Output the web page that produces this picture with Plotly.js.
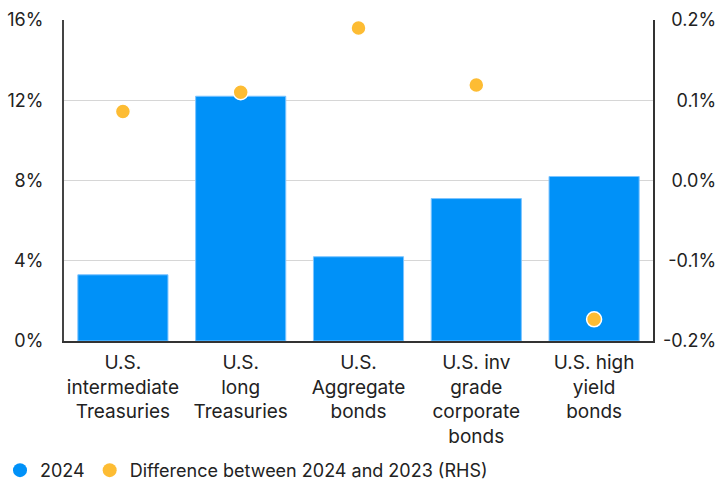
<!DOCTYPE html>
<html>
<head>
<meta charset="utf-8">
<script src="https://cdn.plot.ly/plotly-3.0.1.min.js"></script>
<style>
  html, body { margin: 0; padding: 0; background: #fff; }
  #chart { width: 728px; height: 485px; }
</style>
</head>
<body>
<div id="chart"></div>
<script>
// Bond categories (x axis tick labels)
const categories = [
  "U.S.<br>intermediate<br>Treasuries",
  "U.S.<br>long<br>Treasuries",
  "U.S.<br>Aggregate<br>bonds",
  "U.S. inv<br>grade<br>corporate<br>bonds",
  "U.S. high<br>yield<br>bonds"
];

// 2024 values, % (left axis)
const values2024 = [3.3, 12.2, 4.2, 7.1, 8.2];

// Change from 2023 to 2024, percentage points (right axis)
const diff2024vs2023 = [0.086, 0.110, 0.190, 0.119, -0.173];

const leftTicks = [0, 4, 8, 12, 16];
const rightTicks = [-0.2, -0.1, 0.0, 0.1, 0.2];

const blue = "#0091F8";
const gold = "#FDBC33";
const textColor = "#222222";

const traces = [
  {
    type: "bar",
    x: categories,
    y: values2024,
    marker: { color: blue, line: { color: "#7cc4ff", width: 1 } },
    width: 0.765,
    showlegend: false,
    hoverinfo: "y"
  },
  {
    type: "scatter",
    mode: "markers",
    x: categories,
    y: diff2024vs2023,
    yaxis: "y2",
    marker: { color: gold, size: 15, line: { color: "#ffffff", width: 1.5 } },
    showlegend: false
  },
  // Legend entries drawn as round swatches
  {
    type: "scatter", mode: "markers", x: [null], y: [null],
    name: "2024",
    marker: { color: blue, size: 14 }
  },
  {
    type: "scatter", mode: "markers", x: [null], y: [null],
    name: "Difference between 2024 and 2023 (RHS)",
    marker: { color: gold, size: 14 }
  }
];

const layout = {
  width: 728,
  height: 485,
  margin: { l: 64, r: 75, t: 20, b: 144 },
  paper_bgcolor: "#ffffff",
  plot_bgcolor: "#ffffff",
  font: { family: "Inter, 'Noto Sans', sans-serif", size: 18, color: textColor },
  xaxis: {
    type: "category",
    automargin: false,
    showline: true,
    linecolor: "#333333",
    linewidth: 2,
    ticks: "",
    ticklabelstandoff: 3,
    tickfont: { size: 19, color: textColor },
    fixedrange: true
  },
  yaxis: {
    range: [0, 16],
    automargin: false,
    tickvals: leftTicks,
    ticktext: leftTicks.map(v => v + "%"),
    showgrid: true,
    gridcolor: "#d6d6d6",
    gridwidth: 1,
    showline: true,
    linecolor: "#444444",
    linewidth: 2,
    zeroline: false,
    ticks: "",
    ticklabelstandoff: 15,
    fixedrange: true
  },
  yaxis2: {
    overlaying: "y",
    side: "right",
    automargin: false,
    range: [-0.2, 0.2],
    tickvals: rightTicks,
    ticktext: rightTicks.map(v => v.toFixed(1) + "%"),
    showgrid: false,
    zeroline: false,
    showline: true,
    linecolor: "#333333",
    linewidth: 1.5,
    ticks: "",
    ticklabelstandoff: 5,
    fixedrange: true
  },
  legend: {
    orientation: "h",
    xref: "container",
    yref: "container",
    x: 0.0,
    xanchor: "left",
    y: 0.03,
    yanchor: "middle",
    font: { size: 18, color: textColor },
    itemwidth: 20
  },
  showlegend: true
};

Plotly.newPlot("chart", traces, layout, { displayModeBar: false, staticPlot: true })
  .then(gd => {
    // Right-align the right-hand axis labels against the widest one
    const labels = Array.from(gd.querySelectorAll(".y2tick text"));
    const rights = labels.map(t => { const b = t.getBBox(); return b.x + b.width; });
    const maxRight = Math.max(...rights);
    labels.forEach((t, i) => {
      const shift = maxRight - rights[i];
      const tr = t.getAttribute("transform") || "";
      t.setAttribute("transform", (tr + " translate(" + shift + ",0)").trim());
    });
  });
</script>
</body>
</html>
